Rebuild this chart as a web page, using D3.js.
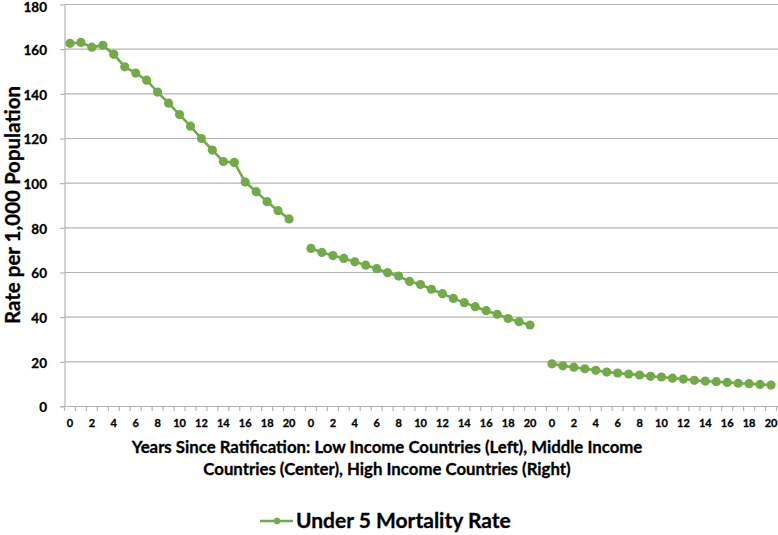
<!DOCTYPE html>
<html>
<head>
<meta charset="utf-8">
<script src="https://cdn.jsdelivr.net/npm/d3@7"></script>
<style>
  html, body { margin: 0; padding: 0; background: #fff; }
  svg { display: block; font-family: Lato, "Open Sans", sans-serif; font-weight: bold; }
  svg text { stroke: #000; stroke-width: 0.3px; }
</style>
</head>
<body>
<svg id="chart" width="778" height="535"></svg>
<script>
// ---- data ----
const years = d3.range(0, 21); // 0..20 years since ratification
const lowIncome = [162.6, 163.0, 160.9, 161.7, 157.7, 152.1, 149.3, 146.1, 140.8, 135.8, 130.7,
                   125.5, 120.0, 114.8, 109.7, 109.3, 100.5, 96.2, 91.7, 87.7, 84.0];
const middleIncome = [70.8, 69.0, 67.6, 66.3, 64.8, 63.3, 61.7, 59.9, 58.4, 56.0, 54.6,
                      52.5, 50.5, 48.4, 46.5, 44.7, 42.9, 41.3, 39.4, 38.0, 36.5];
const highIncome = [19.1, 18.2, 17.6, 16.9, 16.2, 15.4, 15.0, 14.5, 14.1, 13.5, 13.2,
                    12.7, 12.3, 11.7, 11.4, 11.1, 10.8, 10.4, 10.2, 9.9, 9.6];
const yTicks = [0, 20, 40, 60, 80, 100, 120, 140, 160, 180];
const seriesName = "Under 5 Mortality Rate";
const yTitle = "Rate per 1,000 Population";
const xTitleLines = ["Years Since Ratification: Low Income Countries (Left), Middle Income",
                     "Countries (Center), High Income Countries (Right)"];

// categories: three groups of 21 years with an empty slot between groups
const groups = [lowIncome, middleIncome, highIncome];
const categories = [];
groups.forEach((vals, g) => {
  if (g > 0) categories.push({ key: "gap" + g, label: "", value: null });
  years.forEach((yr, i) => categories.push({ key: g + "-" + yr, label: String(yr), value: vals[i], group: g }));
});

// ---- layout ----
const svg = d3.select("#chart");
const mLeft = 64.5, mRight = 776.5, mTop = 4.5, mBottom = 406.5;
const green = "#73a94b";
const grid = "#b4b4b4";

const x = d3.scaleBand().domain(categories.map(d => d.key)).range([mLeft, mRight]).padding(0);
const y = d3.scaleLinear().domain([0, 180]).range([mBottom, mTop]);

// gridlines
svg.append("g").selectAll("line").data(yTicks.filter(t => t > 0)).join("line")
  .attr("x1", mLeft).attr("x2", 778)
  .attr("y1", d => y(d)).attr("y2", d => y(d))
  .attr("stroke", grid).attr("stroke-width", 1.2);

// y axis
const yAxis = svg.append("g").attr("transform", `translate(${mLeft},0)`)
  .call(d3.axisLeft(y).tickValues(yTicks).tickSize(4.5).tickSizeOuter(0).tickPadding(13));
yAxis.select(".domain").attr("stroke", grid).attr("stroke-width", 1.2);
yAxis.selectAll(".tick line").attr("stroke", grid).attr("stroke-width", 1.2);
yAxis.selectAll("text").attr("font-size", 13.5).attr("font-weight", "bold")
  .attr("font-family", "Lato").attr("fill", "#000")
  .attr("dy", d => (d === 180 ? "0.55em" : "0.4em"));

// x axis
const xAxis = svg.append("g").attr("transform", `translate(0,${mBottom})`)
  .call(d3.axisBottom(x).tickSize(0).tickPadding(13)
    .tickFormat((k, i) => (i % 2 === 0 ? categories[i].label : "")));
xAxis.select(".domain").attr("stroke", grid).attr("stroke-width", 1.2)
  .attr("d", `M${mLeft - 4.5},0H778`);
xAxis.selectAll("text").attr("font-size", 11).attr("font-weight", "bold")
  .attr("font-family", "Lato").attr("fill", "#000");
// tick marks between categories
const boundaries = categories.map(d => x(d.key)).concat([mRight]);
xAxis.append("g").selectAll("line").data(boundaries).join("line")
  .attr("x1", d => d).attr("x2", d => d).attr("y1", 0).attr("y2", 4.5)
  .attr("stroke", grid).attr("stroke-width", 1.2);

// series lines & points
const line = d3.line()
  .defined(d => d.value != null)
  .x(d => x(d.key) + x.bandwidth() / 2)
  .y(d => y(d.value));
svg.append("path").datum(categories).attr("d", line)
  .attr("fill", "none").attr("stroke", green).attr("stroke-width", 2.6);
svg.append("g").selectAll("circle").data(categories.filter(d => d.value != null)).join("circle")
  .attr("cx", d => x(d.key) + x.bandwidth() / 2).attr("cy", d => y(d.value))
  .attr("r", 4.6).attr("fill", green);

// y title
svg.append("text")
  .attr("transform", `translate(20,205) rotate(-90)`)
  .attr("text-anchor", "middle").attr("font-size", 20.5).attr("font-family", "Lato")
  .text(yTitle);

// x title
svg.append("g").selectAll("text").data(xTitleLines).join("text")
  .attr("x", 387).attr("y", (d, i) => 453 + i * 22)
  .attr("text-anchor", "middle").attr("font-size", 16.8).attr("font-family", "Lato")
  .text(d => d);

// legend
const lg = svg.append("g");
lg.append("line").attr("x1", 260).attr("x2", 293).attr("y1", 521).attr("y2", 521)
  .attr("stroke", green).attr("stroke-width", 2.6);
lg.append("circle").attr("cx", 277).attr("cy", 521).attr("r", 3.2).attr("fill", green);
lg.append("text").attr("x", 296).attr("y", 528).attr("font-size", 21).attr("font-family", "Lato")
  .text(seriesName);
</script>
</body>
</html>
